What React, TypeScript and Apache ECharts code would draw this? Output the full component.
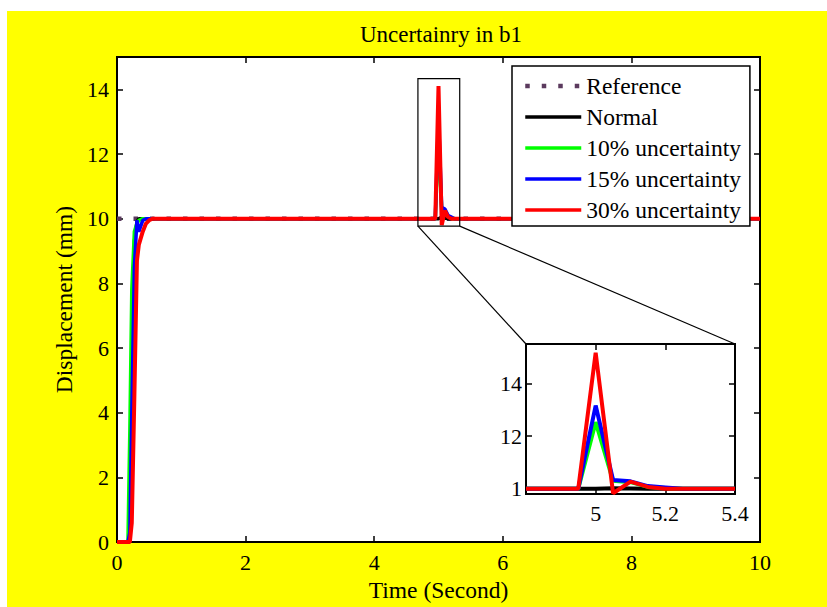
import React, { useEffect, useRef } from 'react';
import * as echarts from 'echarts';

const seriesNames = ['Reference', 'Normal', '10% uncertainty', '15% uncertainty', '30% uncertainty'];
const seriesColors = ['#5b3a5e', '#000000', '#00ff00', '#0000ff', '#ff0000'];

const refTime = [0, 10];
const refValues = [10, 10];

const mainTime = [0, 0.17, 0.2, 0.23, 0.27, 0.31, 0.34, 0.4, 0.45, 0.5, 0.55, 4.95, 5.0, 5.05, 5.1, 5.15, 5.2, 5.25, 10];
const normalValues = [0, 0, 0, 4.5, 9.3, 9.9, 10, 10, 10, 10, 10, 10, 10, 10.05, 10.02, 10, 10, 10, 10];
const green10Values = [0, 0, 3.5, 7.8, 9.6, 9.85, 9.95, 10, 10, 10, 10, 10, 12.5, 10.3, 10.25, 10.07, 10.03, 10, 10];
const blue15Values = [0, 0, 0.3, 4, 8.5, 9.95, 9.6, 9.95, 10, 10, 10, 10, 13.15, 10.35, 10.3, 10.1, 10.05, 10, 10];
const red30Values = [0, 0, 0, 0.6, 4.5, 8.7, 9.2, 9.6, 9.85, 9.95, 10, 10, 14.1, 9.8, 10.25, 10.05, 10, 10, 10];

const insetTime = [4.8, 4.95, 5.0, 5.05, 5.1, 5.15, 5.2, 5.25, 5.4];
const insetNormal = [10, 10, 10, 10.02, 10.01, 10, 10, 10, 10];
const insetGreen10 = [10, 10, 12.53, 10.3, 10.25, 10.07, 10.03, 10, 10];
const insetBlue15 = [10, 10, 13.16, 10.33, 10.28, 10.1, 10.05, 10, 10];
const insetRed30 = [10, 10, 15.17, 9.83, 10.27, 10.07, 10.0, 10, 10];

const mainXTicks = [0, 2, 4, 6, 8, 10];
const mainYTicks = [0, 2, 4, 6, 8, 10, 12, 14];
const insetXTicks = [5, 5.2, 5.4];
const insetYTicks = [10, 12, 14];

const mainXRange = [0, 10];
const mainYRange = [0, 15];
const insetXRange = [4.8, 5.4];
const insetYRange = [9.8, 15.5];
const zoomBox = { x0: 4.68, x1: 5.33, y0: 9.77, y1: 14.33 };

const FONT = '"Liberation Serif", "Times New Roman", serif';

const pairs = (t: number[], v: number[]) => t.map((x, i) => [x, v[i]]);

export default function App() {
  const ref = useRef<HTMLDivElement>(null);
  useEffect(() => {
    document.body.style.margin = '0';
    const chart = echarts.init(ref.current!, null, { renderer: 'svg' });
    const labelStyle = { color: '#000', fontFamily: FONT, fontSize: 22 };
    const tick = (vals: number[]) => ({ show: true, inside: true, length: 6, customValues: vals, lineStyle: { color: '#000', width: 1.5 } });
    const axisLine = { show: true, onZero: false, lineStyle: { color: '#000', width: 2 } };

    const mainSeriesData = [
      pairs(refTime, refValues),
      pairs(mainTime, normalValues),
      pairs(mainTime, green10Values),
      pairs(mainTime, blue15Values),
      pairs(mainTime, red30Values),
    ];
    const insetSeriesData = [
      pairs(insetTime, insetNormal),
      pairs(insetTime, insetGreen10),
      pairs(insetTime, insetBlue15),
      pairs(insetTime, insetRed30),
    ];

    const refLine = { width: 4.5, type: [4.5, 12], cap: 'butt' };
    const series: any[] = [];
    mainSeriesData.forEach((d, i) => {
      series.push({
        type: 'line',
        name: seriesNames[i],
        xAxisIndex: 0,
        yAxisIndex: 0,
        data: d,
        showSymbol: false,
        symbol: 'none',
        color: seriesColors[i],
        lineStyle: i === 0
          ? { color: seriesColors[i], ...refLine }
          : { color: seriesColors[i], width: i === 4 ? 4 : 3.5 },
        z: 2 + i,
      });
    });
    insetSeriesData.forEach((d, i) => {
      series.push({
        type: 'line',
        name: seriesNames[i + 1],
        xAxisIndex: 2,
        yAxisIndex: 2,
        data: d,
        showSymbol: false,
        symbol: 'none',
        color: seriesColors[i + 1],
        lineStyle: { color: seriesColors[i + 1], width: 4 },
        z: 12 + i,
      });
    });

    const option: any = {
      animation: false,
      backgroundColor: '#ffffff',
      title: {
        text: 'Uncertainry in b1',
        left: 436,
        textAlign: 'center',
        top: 18,
        textStyle: { color: '#000', fontFamily: FONT, fontSize: 23, fontWeight: 'normal' },
      },
      legend: {
        data: seriesNames.map((n, i) => ({
          name: n,
          lineStyle: i === 0 ? { color: seriesColors[i], ...refLine } : { color: seriesColors[i], width: 3.5 },
        })),
        orient: 'vertical',
        left: 512,
        top: 66,
        padding: [8, 9, 4, 11],
        itemGap: 7,
        itemWidth: 56,
        itemHeight: 14,
        backgroundColor: '#ffffff',
        borderColor: '#000',
        borderWidth: 1.5,
        itemStyle: { opacity: 0 },
        textStyle: { color: '#000', fontFamily: FONT, fontSize: 23.5 },
        selectedMode: false,
        z: 20,
      },
      grid: [
        { left: 117, right: 67, top: 57, bottom: 60, show: true, backgroundColor: '#ffffff', borderColor: '#000', borderWidth: 2 },
        { left: 526, right: 92, top: 344, bottom: 113, show: true, backgroundColor: '#ffffff', borderColor: '#000', borderWidth: 2 },
      ],
      xAxis: [
        {
          type: 'value', gridIndex: 0, position: 'bottom', min: mainXRange[0], max: mainXRange[1], interval: 2,
          axisLine, axisTick: tick(mainXTicks), splitLine: { show: false },
          axisLabel: { ...labelStyle, margin: 9, customValues: mainXTicks },
          name: 'Time (Second)', nameLocation: 'middle', nameGap: 35,
          nameTextStyle: { color: '#000', fontFamily: FONT, fontSize: 23.5 },
        },
        {
          type: 'value', gridIndex: 0, position: 'top', min: mainXRange[0], max: mainXRange[1], interval: 2,
          axisLine, axisTick: tick(mainXTicks), splitLine: { show: false }, axisLabel: { show: false },
        },
        {
          type: 'value', gridIndex: 1, position: 'bottom', min: insetXRange[0], max: insetXRange[1],
          axisLine, axisTick: tick(insetXTicks), splitLine: { show: false },
          axisLabel: { ...labelStyle, margin: 8, customValues: insetXTicks },
        },
        {
          type: 'value', gridIndex: 1, position: 'top', min: insetXRange[0], max: insetXRange[1],
          axisLine, axisTick: tick(insetXTicks), splitLine: { show: false }, axisLabel: { show: false },
        },
      ],
      yAxis: [
        {
          type: 'value', gridIndex: 0, position: 'left', min: mainYRange[0], max: mainYRange[1], interval: 2,
          axisLine, axisTick: tick(mainYTicks), splitLine: { show: false },
          axisLabel: { ...labelStyle, margin: 8, customValues: mainYTicks, formatter: (v: number) => (v > 14 ? '' : String(v)) },
          name: 'Displacement (mm)', nameLocation: 'middle', nameGap: 40,
          nameTextStyle: { color: '#000', fontFamily: FONT, fontSize: 23.5 },
        },
        {
          type: 'value', gridIndex: 0, position: 'right', min: mainYRange[0], max: mainYRange[1], interval: 2,
          axisLine, axisTick: tick(mainYTicks), splitLine: { show: false }, axisLabel: { show: false },
        },
        {
          type: 'value', gridIndex: 1, position: 'left', min: insetYRange[0], max: insetYRange[1],
          axisLine, axisTick: tick(insetYTicks), splitLine: { show: false },
          axisLabel: { ...labelStyle, margin: 4, customValues: insetYTicks, formatter: (v: number) => (Math.abs(v - 10) < 1e-6 ? '1' : String(v)) },
        },
        {
          type: 'value', gridIndex: 1, position: 'right', min: insetYRange[0], max: insetYRange[1],
          axisLine, axisTick: tick(insetYTicks), splitLine: { show: false }, axisLabel: { show: false },
        },
      ],
      series,
      graphic: [
        { id: 'bg', type: 'rect', shape: { x: 7, y: 11, width: 820, height: 596 }, style: { fill: '#ffff00' }, z: -100, silent: true },
      ],
    };
    chart.setOption(option);

    const px = (g: number, v: number[]) => chart.convertToPixel({ gridIndex: g } as any, v) as unknown as number[];
    const bl = px(0, [zoomBox.x0, zoomBox.y0]);
    const tr = px(0, [zoomBox.x1, zoomBox.y1]);
    const itl = px(1, [insetXRange[0], insetYRange[1]]);
    const itr = px(1, [insetXRange[1], insetYRange[1]]);
    chart.setOption({
      graphic: [
        { id: 'bg', type: 'rect', shape: { x: 7, y: 11, width: 820, height: 596 }, style: { fill: '#ffff00' }, z: -100, silent: true },
        { id: 'box', type: 'rect', shape: { x: bl[0], y: tr[1], width: tr[0] - bl[0], height: bl[1] - tr[1] }, style: { fill: 'none', stroke: '#000', lineWidth: 1.2 }, z: 20, silent: true },
        { id: 'l1', type: 'line', shape: { x1: bl[0], y1: bl[1], x2: itl[0], y2: itl[1] }, style: { stroke: '#000', lineWidth: 1.2 }, z: 20, silent: true },
        { id: 'l2', type: 'line', shape: { x1: tr[0], y1: bl[1], x2: itr[0], y2: itr[1] }, style: { stroke: '#000', lineWidth: 1.2 }, z: 20, silent: true },
      ],
    });
    return () => chart.dispose();
  }, []);
  return <div ref={ref} style={{ width: 827, height: 607 }} />;
}
